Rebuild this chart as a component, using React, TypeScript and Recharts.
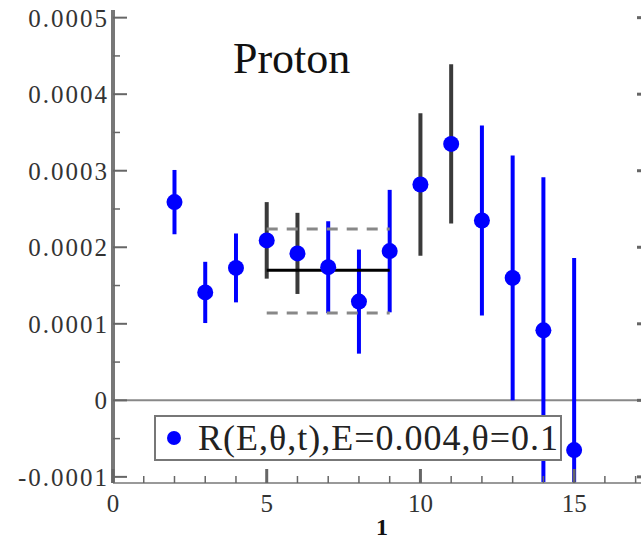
import {
  ScatterChart,
  Scatter,
  XAxis,
  YAxis,
  ErrorBar,
  ReferenceLine,
  Legend,
} from 'recharts'

const xValues = [2, 3, 4, 5, 6, 7, 8, 9, 10, 11, 12, 13, 14, 15]
const rValues = [
  0.000259, 0.000141, 0.000173, 0.000209, 0.000192, 0.000174, 0.000129,
  0.000195, 0.000282, 0.000335, 0.000235, 0.00016, 0.0000915, -0.000065,
]
const rErrors = [
  0.000042, 0.00004, 0.000045, 0.00005, 0.000053, 0.00006, 0.000068,
  0.00008, 0.000093, 0.000104, 0.000124, 0.00016, 0.0002, 0.000251,
]
// which points have the dark (fit window) error bars
const darkBars = [false, false, false, true, true, false, false, false, true, true, false, false, false, false]

const fitRange = [5, 9]
const fitValue = 0.00017
const fitUpper = 0.000224
const fitLower = 0.000114

const xTicks = [0, 1, 2, 3, 4, 5, 6, 7, 8, 9, 10, 11, 12, 13, 14, 15, 16, 17]
const yTicks = [-0.0001, -0.00005, 0, 0.00005, 0.0001, 0.00015, 0.0002, 0.00025, 0.0003, 0.00035, 0.0004, 0.00045, 0.0005]

const legendLabel = 'R(E,θ,t),E=0.004,θ=0.1'
const titleText = 'Proton'
const xLabel = '1'

const Y_MIN = -0.000108
const Y_MAX = 0.00051

// error bars get cut at the bottom of the frame (ErrorBar is not clipped by the plot area)
const points = xValues.map((x, i) => ({
  x,
  y: rValues[i],
  err: [Math.min(rErrors[i], rValues[i] - Y_MIN), rErrors[i]],
  dark: darkBars[i],
}))
const bluePoints = points.filter((p) => !p.dark)
const darkPoints = points.filter((p) => p.dark)
const fitLine = fitRange.map((x) => ({ x, y: fitValue }))
const upperLine = fitRange.map((x) => ({ x, y: fitUpper }))
const lowerLine = fitRange.map((x) => ({ x, y: fitLower }))

const FONT = '"Liberation Serif", "Times New Roman", serif'
const BLUE = '#0000ff'

const isMajorX = (v: number) => v % 5 === 0
const isMajorY = (v: number) => Math.abs(v * 10000 - Math.round(v * 10000)) < 1e-6
const fmtY = (v: number) => (Math.abs(v) < 1e-12 ? '0' : v.toFixed(4))

function BottomTick({ x, y, payload }: any) {
  const major = isMajorX(payload.value)
  return (
    <g>
      <line x1={x} y1={y} x2={x} y2={y - (major ? 14 : 7)} stroke="#666" strokeWidth={major ? 3 : 1.5} />
      {major && (
        <text x={x} y={y + 29} textAnchor="middle" fontFamily={FONT} fontSize={25} fill="#333">
          {payload.value}
        </text>
      )}
    </g>
  )
}

function TopTick({ x, y, payload }: any) {
  const major = isMajorX(payload.value)
  return <line x1={x} y1={y} x2={x} y2={y + (major ? 14 : 7)} stroke="#666" strokeWidth={major ? 3 : 1.5} />
}

function LeftTick({ x, y, payload }: any) {
  const major = isMajorY(payload.value)
  return (
    <g>
      <line x1={x} y1={y} x2={x + (major ? 14 : 7)} y2={y} stroke="#666" strokeWidth={major ? 2 : 1.5} />
      {major && (
        <text x={x - 4} y={y + 9} textAnchor="end" fontFamily={FONT} fontSize={25} letterSpacing={2} fill="#333">
          {fmtY(payload.value)}
        </text>
      )}
    </g>
  )
}

function RightTick({ x, y, payload }: any) {
  const major = isMajorY(payload.value)
  return <line x1={x} y1={y} x2={x - (major ? 14 : 7)} y2={y} stroke="#666" strokeWidth={major ? 3 : 1.5} />
}

function AxisTitle({ viewBox }: any) {
  if (!viewBox) return null
  return (
    <text
      x={viewBox.x + viewBox.width / 2}
      y={viewBox.y + viewBox.height - 5}
      textAnchor="middle"
      fontFamily={FONT}
      fontSize={24}
      fontWeight="bold"
      fill="#111"
    >
      {xLabel}
    </text>
  )
}

const Dot = (p: any) => <circle cx={p.cx} cy={p.cy} r={8} fill={BLUE} />
const NoShape = () => null

function LegendBox() {
  return (
    <div
      style={{
        width: 404,
        height: 42,
        border: '2px solid #777',
        background: '#fff',
        display: 'flex',
        alignItems: 'center',
        boxSizing: 'content-box',
      }}
    >
      <svg width={42} height={42}>
        <circle cx={18} cy={21} r={7} fill={BLUE} />
      </svg>
      <span
        style={{
          fontFamily: FONT,
          fontSize: 36,
          letterSpacing: 1,
          color: '#222',
          lineHeight: '42px',
          whiteSpace: 'nowrap',
        }}
      >
        {legendLabel}
      </span>
    </div>
  )
}

export default function App() {
  return (
    <div style={{ position: 'absolute', left: 0, top: 0, width: 641, height: 540, overflow: 'hidden', background: '#fff' }}>
      <ScatterChart width={665} height={540} margin={{ top: 10, right: 0, bottom: 0, left: 0 }}>
        <XAxis
          xAxisId="b"
          type="number"
          dataKey="x"
          domain={[0, 17.5]}
          allowDataOverflow
          ticks={xTicks}
          interval={0}
          height={57}
          tickSize={0}
          tickMargin={0}
          tickLine={false}
          tick={<BottomTick />}
          axisLine={{ stroke: '#999', strokeWidth: 2 }}
          label={<AxisTitle />}
        />
        <XAxis
          xAxisId="t"
          orientation="top"
          type="number"
          dataKey="x"
          domain={[0, 17.5]}
          allowDataOverflow
          ticks={xTicks}
          interval={0}
          height={0}
          tickSize={0}
          tickMargin={0}
          tickLine={false}
          tick={<TopTick />}
          axisLine={{ stroke: '#000', strokeWidth: 3 }}
        />
        <YAxis
          yAxisId="l"
          type="number"
          dataKey="y"
          domain={[Y_MIN, Y_MAX]}
          allowDataOverflow
          ticks={yTicks}
          interval={0}
          width={113}
          tickSize={0}
          tickMargin={0}
          tickLine={false}
          tick={<LeftTick />}
          axisLine={{ stroke: '#777', strokeWidth: 4 }}
        />
        <YAxis
          yAxisId="r"
          orientation="right"
          type="number"
          dataKey="y"
          domain={[Y_MIN, Y_MAX]}
          allowDataOverflow
          ticks={yTicks}
          interval={0}
          width={14}
          tickSize={0}
          tickMargin={0}
          tickLine={false}
          tick={<RightTick />}
          axisLine={{ stroke: '#000', strokeWidth: 3 }}
        />
        <ReferenceLine xAxisId="b" yAxisId="l" y={0} stroke="#888" strokeWidth={2} />
        <Scatter
          xAxisId="b"
          yAxisId="l"
          data={upperLine}
          line={{ stroke: '#888', strokeWidth: 3, strokeDasharray: '11 9' }}
          shape={NoShape}
          legendType="none"
          isAnimationActive={false}
        />
        <Scatter
          xAxisId="b"
          yAxisId="l"
          data={lowerLine}
          line={{ stroke: '#888', strokeWidth: 3, strokeDasharray: '11 9' }}
          shape={NoShape}
          legendType="none"
          isAnimationActive={false}
        />
        <Scatter
          xAxisId="b"
          yAxisId="l"
          data={fitLine}
          line={{ stroke: '#000', strokeWidth: 3 }}
          shape={NoShape}
          legendType="none"
          isAnimationActive={false}
        />
        <Scatter xAxisId="b" yAxisId="l" data={darkPoints} shape={Dot} legendType="none" isAnimationActive={false}>
          <ErrorBar dataKey="err" direction="y" width={0} stroke="#3a3a3a" strokeWidth={4} />
        </Scatter>
        <Scatter xAxisId="b" yAxisId="l" name={legendLabel} data={bluePoints} shape={Dot} isAnimationActive={false}>
          <ErrorBar dataKey="err" direction="y" width={0} stroke={BLUE} strokeWidth={4} />
        </Scatter>
        <Legend
          layout="vertical"
          align="center"
          verticalAlign="middle"
          wrapperStyle={{ position: 'absolute', left: 154, top: 415, width: 'auto', height: 'auto' }}
          content={() => <LegendBox />}
        />
      </ScatterChart>
      <div
        style={{
          position: 'absolute',
          left: 233,
          top: 37,
          fontFamily: FONT,
          fontSize: 44,
          lineHeight: '44px',
          color: '#111',
        }}
      >
        {titleText}
      </div>
    </div>
  )
}
